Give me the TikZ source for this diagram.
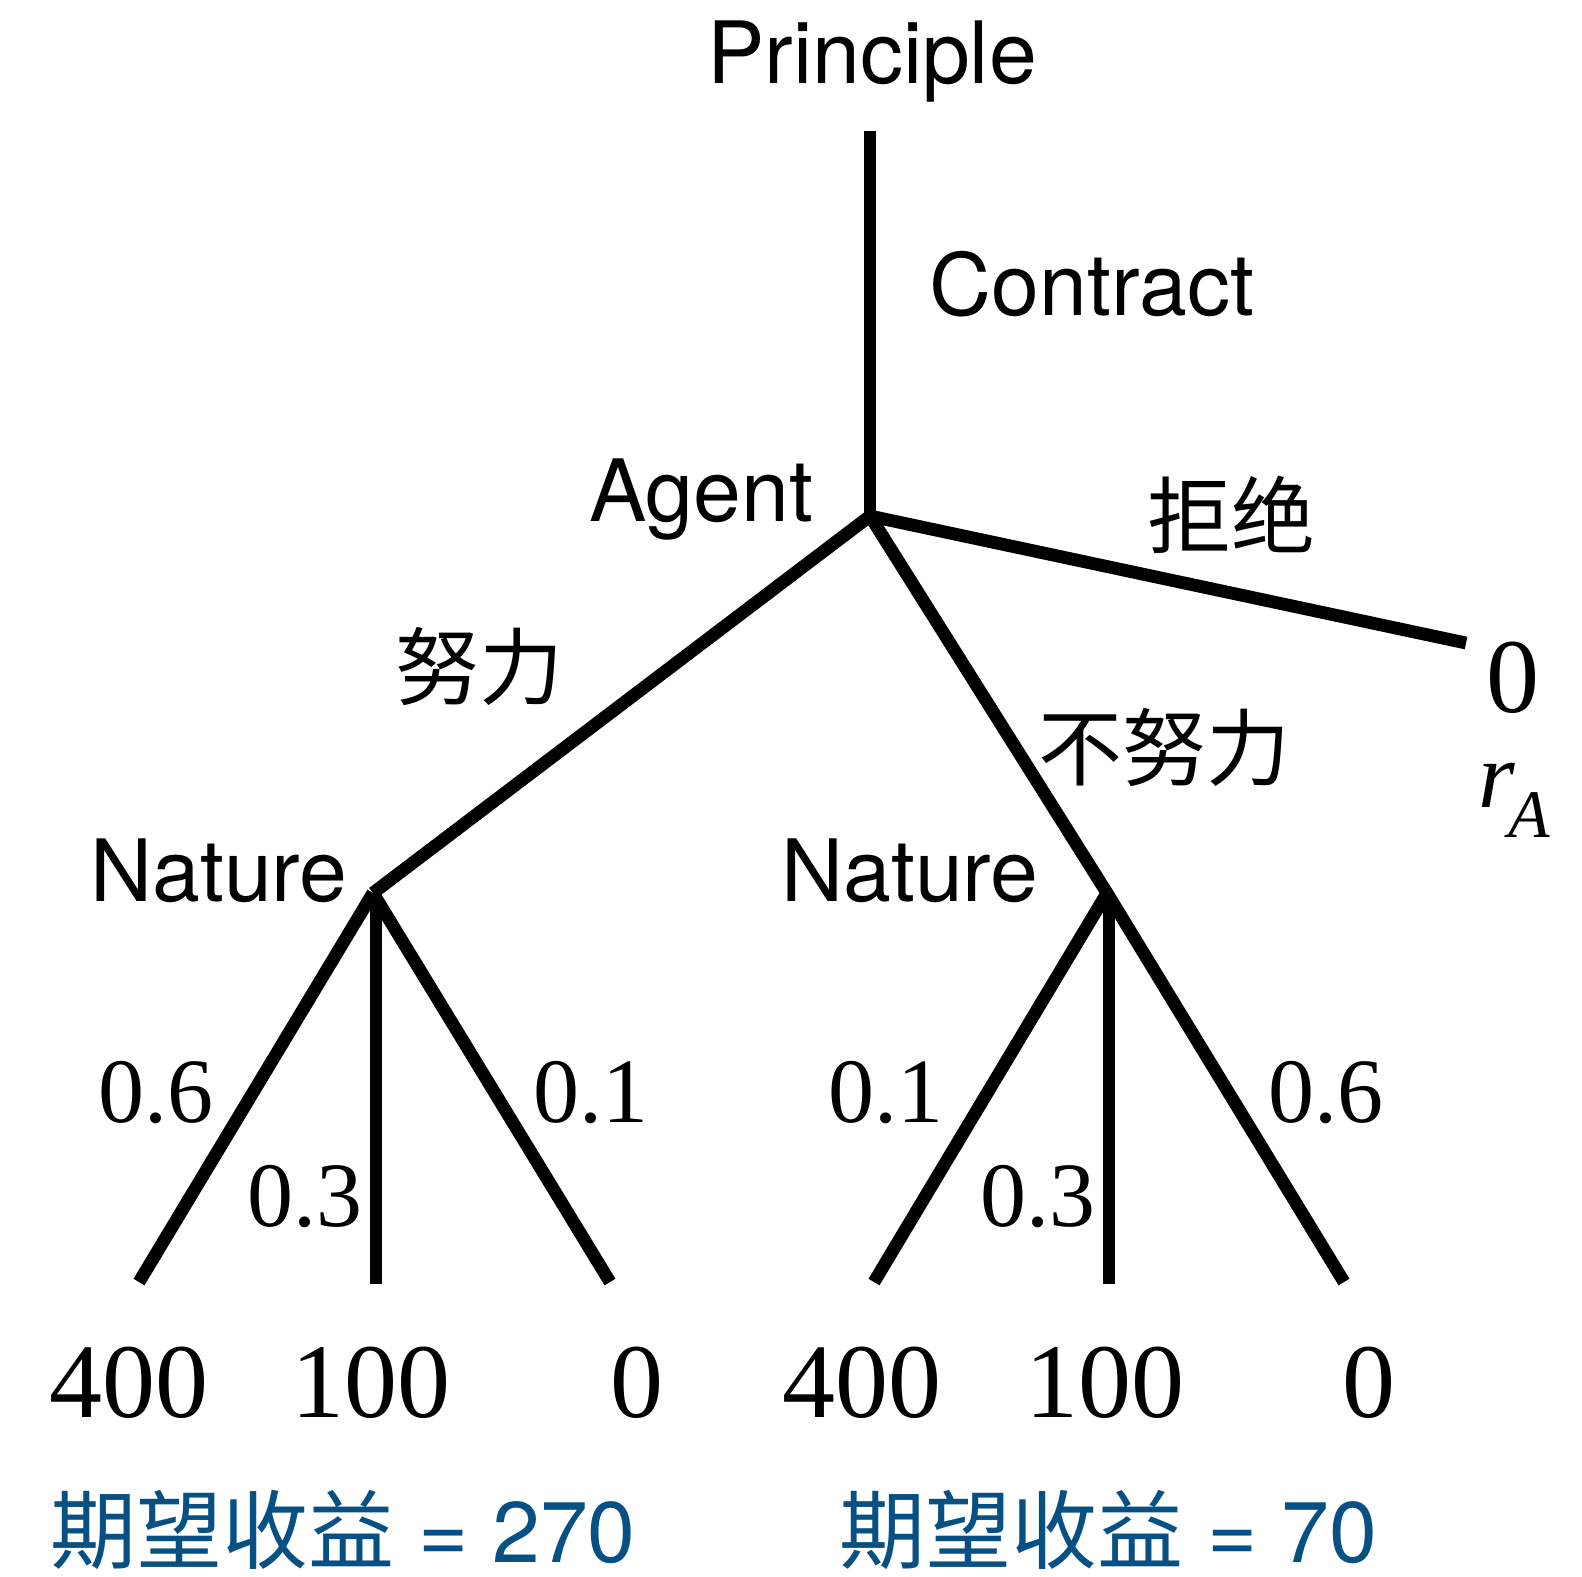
\documentclass[tikz,border=0pt]{standalone}
\usepackage{fontspec}
\setmainfont{Liberation Serif}
\newfontfamily\hv{TeX Gyre Heros}
\newfontfamily\cjk{Noto Sans CJK SC}
\definecolor{payblue}{RGB}{6,80,132}
\tikzset{
  edge/.style={line width=6.4pt, black},
  player/.style={inner sep=0pt, anchor=base, font=\hv\fontsize{43}{43}\selectfont},
  act/.style={inner sep=0pt, anchor=center, font=\cjk\fontsize{42}{42}\selectfont},
  prob/.style={inner sep=0pt, anchor=base, font=\fontsize{46}{46}\selectfont},
  pay/.style={inner sep=0pt, anchor=base, font=\fontsize{53}{53}\selectfont},
  expect/.style={inner sep=0pt, anchor=base west, text=payblue, font=\fontsize{43}{43}\selectfont}
}
\begin{document}
\begin{tikzpicture}[x=0.5pt,y=-0.5pt]
\useasboundingbox (0,0) rectangle (1582,1576);
% tree points
\coordinate (P) at (870,131);
\coordinate (A) at (870,516);
\coordinate (R) at (1466,643);
\coordinate (N1) at (373,893);
\coordinate (N2) at (1107,893);
\coordinate (L1) at (139,1282);
\coordinate (L2) at (376,1284);
\coordinate (L3) at (610,1282);
\coordinate (L4) at (874,1282);
\coordinate (L5) at (1109,1284);
\coordinate (L6) at (1344,1282);
% edges
\draw[edge] (P) -- (A);
\draw[edge] (A) -- (R);
\draw[edge] (A) -- (N1);
\draw[edge] (A) -- (N2);
\draw[edge] (N1) -- (L1);
\draw[edge] (L2 |- N1) -- (L2);
\draw[edge] (N1) -- (L3);
\draw[edge] (N2) -- (L4);
\draw[edge] (L5 |- N2) -- (L5);
\draw[edge] (N2) -- (L6);
% players
\node[player] (tP) at (872,83) {Principle};
\node[player] (tC) at (1092,315) {Contract};
\node[player] (tA) at (701,521) {Agent};
\node[player] (tN1) at (219,901) {Nature};
\node[player] (tN2) at (910,901) {Nature};
% actions
\node[act] (aJ) at (1231,515) {拒绝};
\node[act] (aE) at (479,667) {努力};
\node[act] (aS) at (1164,748) {不努力};
% reject payoff
\node[pay] (z0) at (1513,712) {0};
\node[inner sep=0pt, anchor=base west] (rA) at (1478,807) {\fontsize{47}{47}\selectfont\itshape r\kern-3.5pt\raisebox{-15pt}{\fontsize{34}{34}\selectfont A}};
% probabilities
\node[prob] (p1) at (156,1122) {0.6};
\node[prob] (p2) at (305,1226) {0.3};
\node[prob] (p3) at (591,1122) {0.1};
\node[prob] (p4) at (886,1122) {0.1};
\node[prob] (p5) at (1038,1226) {0.3};
\node[prob] (p6) at (1326,1122) {0.6};
% payoffs
\node[pay] (v1) at (129,1417) {400};
\node[pay] (v2) at (371,1417) {100};
\node[pay] (v3) at (637,1417) {0};
\node[pay] (v4) at (862,1417) {400};
\node[pay] (v5) at (1105,1417) {100};
\node[pay] (v6) at (1369,1417) {0};
% expectations
\node[expect] (e1) at (50,1562) {{\cjk 期望收益}\hv{} = 270};
\node[expect] (e2) at (839,1562) {{\cjk 期望收益}\hv{} = 70};
\end{tikzpicture}
\end{document}
